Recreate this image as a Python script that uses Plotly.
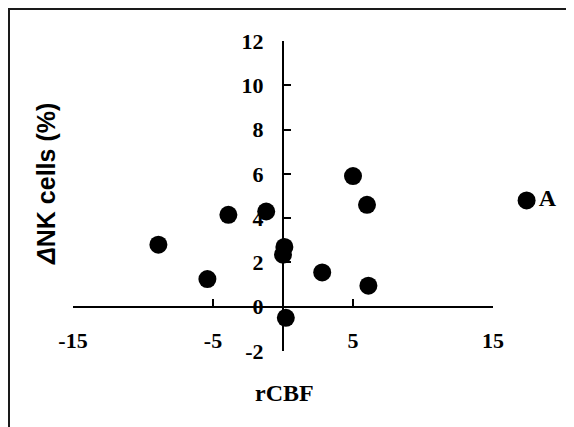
import plotly.graph_objects as go

# Data
rcbf = [-8.9, -5.4, -3.9, -1.2, 0.1, 0.0, 0.2, 2.8, 5.0, 6.0, 6.1, 17.4]
delta_nk = [2.8, 1.25, 4.15, 4.3, 2.7, 2.35, -0.5, 1.55, 5.9, 4.6, 0.95, 4.8]
point_labels = ["", "", "", "", "", "", "", "", "", "", "", "A"]

x_ticks = [-15, -5, 5, 15]
y_ticks = [-2, 0, 2, 4, 6, 8, 10, 12]
x_axis_range = [-15, 15]   # span of the drawn x axis
y_range = [-2, 12]

# The page body adds an 8px offset, so the figure is 8px smaller
OFF = 8
W, H = 574 - OFF, 427 - OFF
L, R, T, B = 65, 6, 33, 76
PW, PH = W - L - R, H - T - B
PX_PER_UNIT = 14.0
x_view_max = x_axis_range[0] + PW / PX_PER_UNIT  # data window so point A fits

def px_to_paper_x(px):  # px in screenshot coordinates
    return (px - OFF - L) / PW

def px_to_paper_y(py):
    return (H - B - (py - OFF)) / PH

view_span = x_view_max - x_axis_range[0]
axis_frac = (x_axis_range[1] - x_axis_range[0]) / view_span
yaxis_pos = (0 - x_axis_range[0]) / view_span
xaxis_pos = (0 - y_range[0]) / (y_range[1] - y_range[0])

serif = "Liberation Serif, Times New Roman, serif"
sans = "Liberation Sans, Arial, sans-serif"

fig = go.Figure()
# an invisible trace so the second x axis is rendered
fig.add_trace(go.Scatter(x=[None], y=[None], xaxis="x2", yaxis="y",
                         showlegend=False, hoverinfo="skip"))
fig.add_trace(go.Scatter(
    x=rcbf, y=delta_nk, mode="markers+text",
    text=point_labels, textposition="middle right",
    textfont=dict(family=serif, size=24, color="black", weight="bold"),
    marker=dict(size=18, color="black"),
    cliponaxis=False, showlegend=False,
))

tickfont = dict(family=serif, size=22, color="black", weight="bold")

fig.update_layout(
    width=W, height=H,
    margin=dict(l=L, r=R, t=T, b=B, pad=0, autoexpand=False),
    paper_bgcolor="white", plot_bgcolor="rgba(0,0,0,0)",
    font=dict(family=serif, size=22, color="black"),
    xaxis=dict(
        range=[x_axis_range[0], x_view_max], visible=False,
        domain=[0, 1], automargin=False, fixedrange=True,
    ),
    xaxis2=dict(
        range=x_axis_range, domain=[0, axis_frac],
        tickvals=x_ticks, ticktext=[str(v) for v in x_ticks],
        showline=True, linecolor="black", linewidth=2,
        ticks="inside", ticklen=7, tickwidth=2, tickcolor="black",
        showgrid=False, zeroline=False,
        anchor="free", position=xaxis_pos,
        ticklabelstandoff=14, automargin=False,
        tickfont=tickfont,
    ),
    yaxis=dict(
        range=y_range, tickvals=y_ticks, ticktext=[str(v) for v in y_ticks],
        showline=True, linecolor="black", linewidth=2,
        ticks="inside", ticklen=7, tickwidth=2, tickcolor="black",
        showgrid=False, zeroline=False,
        anchor="free", position=yaxis_pos,
        ticklabelstandoff=14, automargin=False,
        tickfont=tickfont,
    ),
    annotations=[
        dict(text="rCBF", xref="paper", yref="paper",
             x=px_to_paper_x(284), y=px_to_paper_y(393),
             xanchor="center", yanchor="middle", showarrow=False,
             font=dict(family=serif, size=24, color="black", weight="bold")),
        dict(text="<i>Δ</i>NK cells (%)", xref="paper", yref="paper",
             x=px_to_paper_x(46), y=px_to_paper_y(184),
             xanchor="center", yanchor="middle", showarrow=False,
             textangle=-90,
             font=dict(family=sans, size=25, color="black", weight="bold")),
    ],
    shapes=[
        dict(type="rect", xref="paper", yref="paper",
             x0=px_to_paper_x(9), x1=px_to_paper_x(620),
             y0=px_to_paper_y(480), y1=px_to_paper_y(9),
             line=dict(color="#1a1a1a", width=2), fillcolor="rgba(0,0,0,0)",
             layer="below"),
    ],
)

fig.write_html("out.html")
